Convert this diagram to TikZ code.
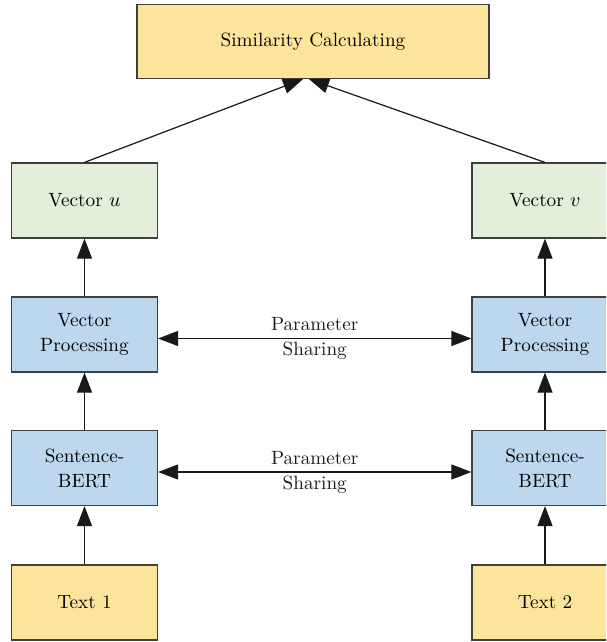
\documentclass[tikz,border=0pt]{standalone}
\usetikzlibrary{arrows.meta}
\definecolor{yel}{HTML}{FCE59A}
\definecolor{grn}{HTML}{E3EFDA}
\definecolor{blu}{HTML}{BDD7EE}
\definecolor{edgec}{HTML}{3F3F3F}
\begin{document}
\begin{tikzpicture}[x=0.5pt,y=-0.5pt,
  box/.style={draw=edgec, line width=0.6pt, minimum width=73pt, minimum height=37.5pt,
    align=center, inner sep=0pt, font=\fontsize{9.6}{12.5}\selectfont},
  arr/.style={-{Triangle[length=10pt,width=7.5pt]}, line width=0.6pt, draw=black!90, fill=black!90},
  dbl/.style={{Triangle[length=10pt,width=7.5pt]}-{Triangle[length=10pt,width=7.5pt]},
    line width=0.6pt, draw=black!90, fill=black!90},
  lbl/.style={align=center, inner sep=0pt, fill=none, text=black!90, font=\fontsize{9.6}{12.5}\selectfont}]
\useasboundingbox (0,0) rectangle (606,642);
\clip (0,0) rectangle (606,642);
\node[box, fill=yel, minimum width=176pt, minimum height=37pt] (sim) at (313,41.5) {Similarity Calculating};
\node[box, fill=grn] (vu) at (84.5,200.5) {Vector $u$};
\node[box, fill=grn] (vv) at (545,200.5) {Vector $v$};
\node[box, fill=blu] (vp1) at (84.5,334.5) {Vector\\Processing};
\node[box, fill=blu] (vp2) at (545,334.5) {Vector\\Processing};
\node[box, fill=blu] (sb1) at (84.5,468) {Sentence-\\BERT};
\node[box, fill=blu] (sb2) at (545,468) {Sentence-\\BERT};
\node[box, fill=yel] (t1) at (84.5,602.5) {Text 1};
\node[box, fill=yel] (t2) at (545,602.5) {Text 2};
\draw[arr] (t1) -- (sb1);
\draw[arr] (t2) -- (sb2);
\draw[arr] (sb1) -- (vp1);
\draw[arr] (sb2) -- (vp2);
\draw[arr] (vp1) -- (vu);
\draw[arr] (vp2) -- (vv);
\draw[arr] (vu.north) -- ([xshift=-5pt]sim.south);
\draw[arr] (vv.north) -- ([xshift=-2pt]sim.south);
\draw[dbl] ([yshift=-2pt]vp1.east) -- node[lbl] {Parameter\\Sharing} ([yshift=-2pt]vp2.west);
\draw[dbl] ([yshift=-2pt]sb1.east) -- node[lbl] {Parameter\\Sharing} ([yshift=-2pt]sb2.west);
\end{tikzpicture}
\end{document}
